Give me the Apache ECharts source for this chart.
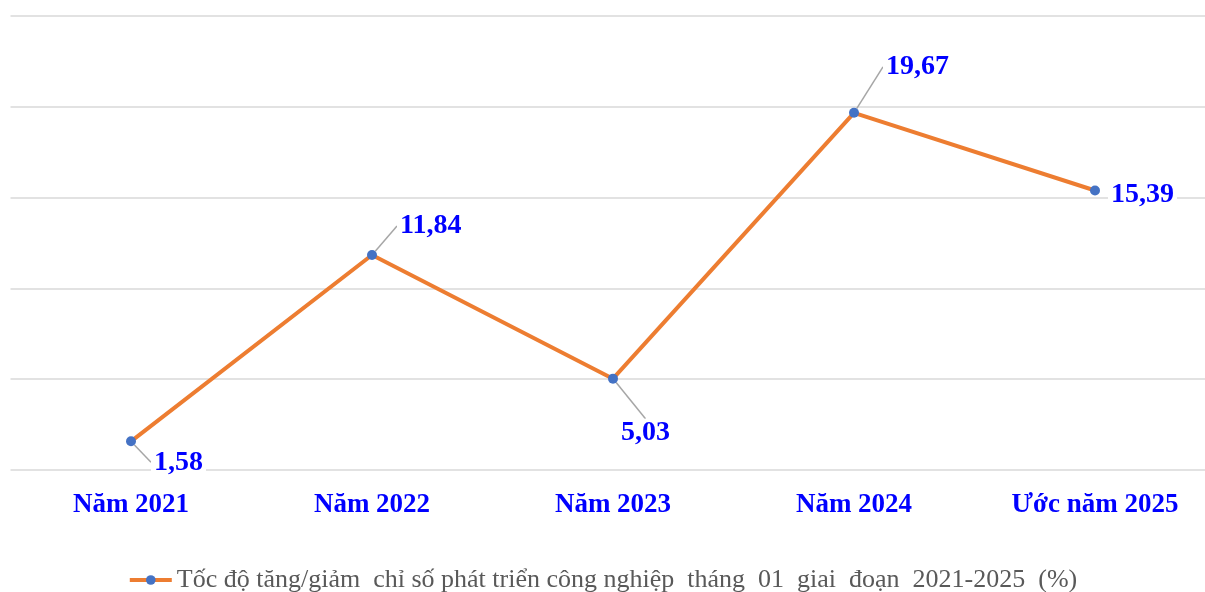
<!DOCTYPE html>
<html>
<head>
<meta charset="utf-8">
<script src="https://cdn.jsdelivr.net/npm/echarts@6/dist/echarts.min.js"></script>
<style>
    html, body { margin: 0; padding: 0; background: #fff; }
    #chart { width: 1205px; height: 592px; }
</style>
</head>
<body>
<div id="chart"></div>
<script>
let categories = ['Năm 2021', 'Năm 2022', 'Năm 2023', 'Năm 2024', 'Ước năm 2025'];
let values = [1.58, 11.84, 5.03, 19.67, 15.39];
let seriesName = 'Tốc độ tăng/giảm  chỉ số phát triển công nghiệp  tháng  01  giai  đoạn  2021-2025  (%)';

// label offsets (dx, dy) from the right-of-point position
let labelShift = [
    { dx: 7, dy: 21 },
    { dx: 12, dy: -29 },
    { dx: -8, dy: 54 },
    { dx: 16, dy: -46 },
    { dx: 0, dy: 4 }
];

let myChart = echarts.init(document.getElementById('chart'));
let option = {
    backgroundColor: '#fff',
    animation: false,
    grid: {
        left: 10.5,
        width: 1205,
        top: 16,
        bottom: 122,
        outerBoundsMode: 'none'
    },
    legend: {
        top: 562,
        left: 'center',
        itemWidth: 42,
        itemHeight: 12,
        itemGap: 3,
        lineStyle: { width: 4 },
        textStyle: {
            fontFamily: 'Liberation Serif',
            fontSize: 26,
            color: '#595959'
        },
        data: [seriesName]
    },
    xAxis: {
        type: 'category',
        data: categories,
        boundaryGap: true,
        axisLine: { show: false },
        axisTick: { show: false },
        axisLabel: {
            margin: 22,
            fontFamily: 'Liberation Serif',
            fontWeight: 'bold',
            fontSize: 27,
            color: '#0000FF'
        }
    },
    yAxis: {
        type: 'value',
        min: 0,
        max: 25,
        interval: 5,
        axisLabel: { show: false },
        axisLine: { show: false },
        axisTick: { show: false },
        splitLine: {
            lineStyle: { color: '#d9d9d9', width: 1.5 }
        }
    },
    series: [
        {
            name: seriesName,
            type: 'line',
            data: values.map(function (v, i) {
                return i === values.length - 1 ? { value: v, labelLine: { show: false } } : v;
            }),
            symbol: 'circle',
            symbolSize: 10,
            itemStyle: { color: '#4472C4' },
            lineStyle: { color: '#ED7D31', width: 4 },
            label: {
                show: true,
                position: 'right',
                distance: 8,
                fontFamily: 'Liberation Serif',
                fontWeight: 'bold',
                fontSize: 28,
                color: '#0000FF',
                backgroundColor: '#fff',
                padding: [0, 3],
                formatter: function (p) {
                    return p.value.toFixed(2).replace('.', ',');
                }
            },
            labelLine: {
                show: true,
                lineStyle: { color: '#a6a6a6', width: 1.5 }
            },
            labelLayout: function (params) {
                return labelShift[params.dataIndex];
            }
        }
    ]
};
myChart.setOption(option);
</script>
</body>
</html>
